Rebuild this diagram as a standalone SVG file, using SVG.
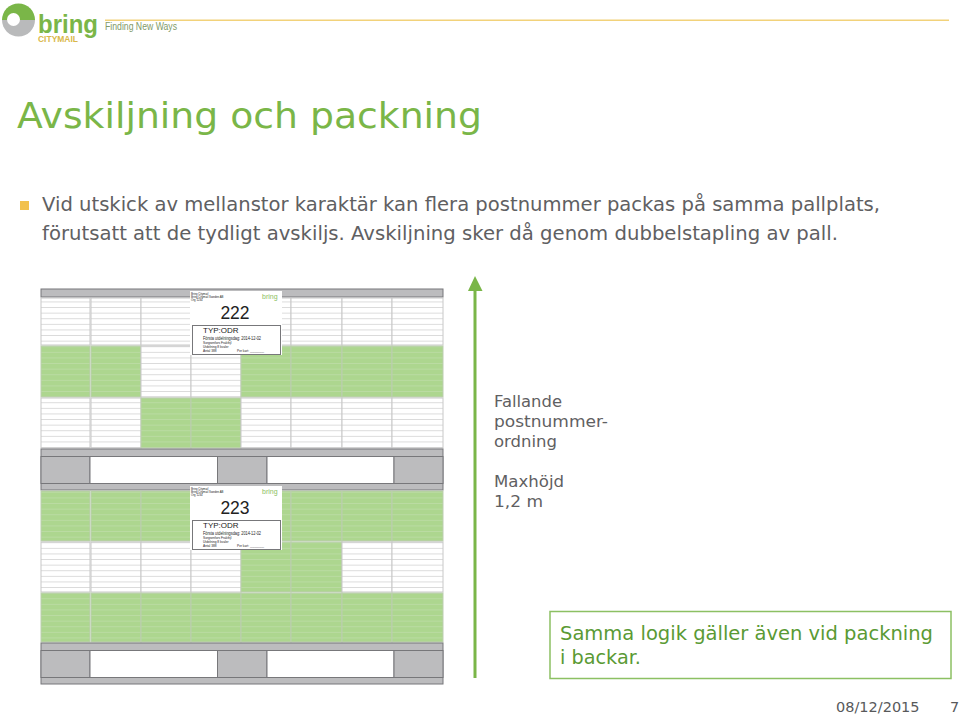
<svg xmlns="http://www.w3.org/2000/svg" width="960" height="717" viewBox="0 0 960 717">
<style>
text{font-family:"DejaVu Sans",Verdana,sans-serif}
.body{font-size:18.7px;fill:#5f6062}
.side{font-size:16px;fill:#5f6062}
.w{fill:url(#ws);stroke:#c8c8c8;stroke-width:1}
.g{fill:url(#gs);stroke:#bccdb0;stroke-width:1}
.p{fill:#bcbcbe;stroke:#77777a;stroke-width:1}
.h{fill:#fff;stroke:#77777a;stroke-width:1}
.l{font-family:"Liberation Sans",Arial,sans-serif;fill:#222}
</style>
<defs>
<pattern id="ws" width="10" height="5.6" patternUnits="userSpaceOnUse"><rect width="10" height="5.6" fill="#fff"/><rect y="4.8" width="10" height=".9" fill="#d4d4d4"/></pattern>
<pattern id="gs" width="10" height="5.6" patternUnits="userSpaceOnUse"><rect width="10" height="5.6" fill="#add68f"/><rect y="4.8" width="10" height=".9" fill="#bcdca6"/></pattern>
<g id="pallet">
<rect class="p" x="41" y="0" width="402" height="41"/>
<rect class="p" x="41" y="7.500" width="49" height="27"/>
<rect class="h" x="90" y="7.500" width="127.500" height="27"/>
<rect class="p" x="217.500" y="7.500" width="49.500" height="27"/>
<rect class="h" x="267" y="7.500" width="127" height="27"/>
<rect class="p" x="394" y="7.500" width="49" height="27"/>
</g>
</defs>
<rect width="960" height="717" fill="#fff"/>
<g id="header">
<rect x="105" y="19.500" width="844" height="1.500" fill="#f2d27a"/>
<path d="M2 20A16.500 16.500 0 0 1 35 20Z" fill="#7ab648"/>
<path d="M2 20A16.500 16.500 0 0 0 35 20Z" fill="#b9babb"/>
<circle cx="13.500" cy="19.500" r="6.500" fill="#fff"/>
<text x="38" y="33" font-size="26" font-weight="700" fill="#7ab648" style="font-family:'Liberation Sans',Arial,sans-serif" textLength="60" lengthAdjust="spacingAndGlyphs">bring</text>
<text x="38" y="42" font-size="8.500" font-weight="700" fill="#d9b84a" style="font-family:'Liberation Sans',Arial,sans-serif" textLength="40" lengthAdjust="spacingAndGlyphs">CITYMAIL</text>
<text x="105" y="30" font-size="10.500" fill="#7f9a68" style="font-family:'Liberation Sans',Arial,sans-serif" textLength="72" lengthAdjust="spacingAndGlyphs">Finding New Ways</text>
</g>
<text id="title" x="17" y="128" font-size="36" fill="#7ab648" style="font-family:'DejaVu Sans',Verdana,sans-serif" textLength="465" lengthAdjust="spacingAndGlyphs">Avskiljning och packning</text>
<g id="bullet-text">
<rect x="20" y="201" width="9" height="9" fill="#f2c14e"/>
<text class="body" x="42" y="211" textLength="838" lengthAdjust="spacingAndGlyphs">Vid utskick av mellanstor karaktär kan flera postnummer packas på samma pallplats,</text>
<text class="body" x="42" y="240" textLength="796" lengthAdjust="spacingAndGlyphs">förutsatt att de tydligt avskiljs. Avskiljning sker då genom dubbelstapling av pall.</text>
</g>
<g id="stack-1">
<rect class="p" x="41" y="289" width="402" height="8"/>
<rect class="w" x="41" y="298" width="49" height="47"/><rect class="w" x="91" y="298" width="50" height="47"/><rect class="w" x="141" y="298" width="50" height="47"/><rect class="w" x="191" y="298" width="50" height="47"/><rect class="w" x="241" y="298" width="50" height="47"/><rect class="w" x="291" y="298" width="51" height="47"/><rect class="w" x="342" y="298" width="50" height="47"/><rect class="w" x="392" y="298" width="51" height="47"/>
<rect class="g" x="41" y="346" width="49" height="51"/><rect class="g" x="91" y="346" width="50" height="51"/><rect class="w" x="141" y="346" width="50" height="51"/><rect class="w" x="191" y="346" width="50" height="51"/><rect class="g" x="241" y="346" width="50" height="51"/><rect class="g" x="291" y="346" width="51" height="51"/><rect class="g" x="342" y="346" width="50" height="51"/><rect class="g" x="392" y="346" width="51" height="51"/>
<rect class="w" x="41" y="398" width="49" height="50"/><rect class="w" x="91" y="398" width="50" height="50"/><rect class="g" x="141" y="398" width="50" height="50"/><rect class="g" x="191" y="398" width="50" height="50"/><rect class="w" x="241" y="398" width="50" height="50"/><rect class="w" x="291" y="398" width="51" height="50"/><rect class="w" x="342" y="398" width="50" height="50"/><rect class="w" x="392" y="398" width="51" height="50"/>
<use href="#pallet" y="449"/>
</g>
<g id="stack-2">
<rect class="g" x="41" y="491" width="49" height="50"/><rect class="g" x="91" y="491" width="50" height="50"/><rect class="g" x="141" y="491" width="50" height="50"/><rect class="g" x="191" y="491" width="50" height="50"/><rect class="g" x="241" y="491" width="50" height="50"/><rect class="g" x="291" y="491" width="51" height="50"/><rect class="g" x="342" y="491" width="50" height="50"/><rect class="g" x="392" y="491" width="51" height="50"/>
<rect class="w" x="41" y="542" width="49" height="50"/><rect class="w" x="91" y="542" width="50" height="50"/><rect class="w" x="141" y="542" width="50" height="50"/><rect class="w" x="191" y="542" width="50" height="50"/><rect class="g" x="241" y="542" width="50" height="50"/><rect class="g" x="291" y="542" width="51" height="50"/><rect class="w" x="342" y="542" width="50" height="50"/><rect class="w" x="392" y="542" width="51" height="50"/>
<rect class="g" x="41" y="593" width="49" height="49"/><rect class="g" x="91" y="593" width="50" height="49"/><rect class="g" x="141" y="593" width="50" height="49"/><rect class="g" x="191" y="593" width="50" height="49"/><rect class="g" x="241" y="593" width="50" height="49"/><rect class="g" x="291" y="593" width="51" height="49"/><rect class="g" x="342" y="593" width="50" height="49"/><rect class="g" x="392" y="593" width="51" height="49"/>
<use href="#pallet" y="643"/>
</g>
<g id="label-222">
<rect x="190" y="291" width="92" height="64" fill="#fff"/>
<text class="l" x="191" y="295" font-size="2.800" fill="#777">Bring Citymail</text>
<text class="l" x="191" y="298" font-size="2.800" fill="#777">Bring Citymail Sweden AB</text>
<text class="l" x="191" y="301" font-size="2.800" fill="#777">Org 1234</text>
<text x="262" y="299" font-size="7" fill="#8cc063" style="font-family:'Liberation Sans',Arial,sans-serif">bring</text>
<text class="l" x="235" y="319" font-size="17.500" text-anchor="middle">222</text>
<rect x="192.500" y="325.500" width="88" height="29" fill="#fff" stroke="#77777a"/>
<text class="l" x="203" y="333" font-size="8">TYP:ODR</text>
<text class="l" x="203" y="340" font-size="5" textLength="58" lengthAdjust="spacingAndGlyphs">Första utdelningsdag: 2014-12-02</text>
<text class="l" x="203" y="344" font-size="3.200">Sorgsenfors Frakthjl</text>
<text class="l" x="203" y="348" font-size="3.200">Utdelning 8 kvaler</text>
<text class="l" x="203" y="352" font-size="3.200">Antal 388</text>
<text class="l" x="237" y="352" font-size="3.200">Per kart: ________</text>
</g>
<g id="label-223">
<rect x="190" y="486" width="92" height="64" fill="#fff"/>
<text class="l" x="191" y="490" font-size="2.800" fill="#777">Bring Citymail</text>
<text class="l" x="191" y="493" font-size="2.800" fill="#777">Bring Citymail Sweden AB</text>
<text class="l" x="191" y="496" font-size="2.800" fill="#777">Org 1234</text>
<text x="262" y="494" font-size="7" fill="#8cc063" style="font-family:'Liberation Sans',Arial,sans-serif">bring</text>
<text class="l" x="235" y="514" font-size="17.500" text-anchor="middle">223</text>
<rect x="192.500" y="520.500" width="88" height="29" fill="#fff" stroke="#77777a"/>
<text class="l" x="203" y="528" font-size="8">TYP:ODR</text>
<text class="l" x="203" y="535" font-size="5" textLength="58" lengthAdjust="spacingAndGlyphs">Första utdelningsdag: 2014-12-02</text>
<text class="l" x="203" y="539" font-size="3.200">Sorgsenfors Frakthjl</text>
<text class="l" x="203" y="543" font-size="3.200">Utdelning 8 kvaler</text>
<text class="l" x="203" y="547" font-size="3.200">Antal 388</text>
<text class="l" x="237" y="547" font-size="3.200">Per kart: ________</text>
</g>
<g id="connectors">
<path d="M475 678V290" stroke="#7ab648" stroke-width="3" fill="none"/>
<path d="M468 291L475 276L482.500 291Z" fill="#7ab648"/>
</g>
<g id="side-note">
<text class="side" x="494" y="407" textLength="68" lengthAdjust="spacingAndGlyphs">Fallande</text>
<text class="side" x="494" y="427" textLength="114" lengthAdjust="spacingAndGlyphs">postnummer-</text>
<text class="side" x="494" y="447" textLength="63" lengthAdjust="spacingAndGlyphs">ordning</text>
<text class="side" x="494" y="487" textLength="70" lengthAdjust="spacingAndGlyphs">Maxhöjd</text>
<text class="side" x="494" y="507" textLength="49" lengthAdjust="spacingAndGlyphs">1,2 m</text>
</g>
<g id="callout">
<rect x="550" y="611.500" width="401" height="67" fill="#fff" stroke="#8cc063" stroke-width="1.500"/>
<text x="560" y="640" font-size="20" fill="#5a9a34" textLength="373" lengthAdjust="spacingAndGlyphs">Samma logik gäller även vid packning</text>
<text x="560" y="664" font-size="20" fill="#5a9a34" textLength="81" lengthAdjust="spacingAndGlyphs">i backar.</text>
</g>
<g id="footer">
<text x="836" y="712" font-size="14.500" fill="#58595b">08/12/2015</text>
<text x="950" y="712" font-size="14.500" fill="#58595b">7</text>
</g>
</svg>
